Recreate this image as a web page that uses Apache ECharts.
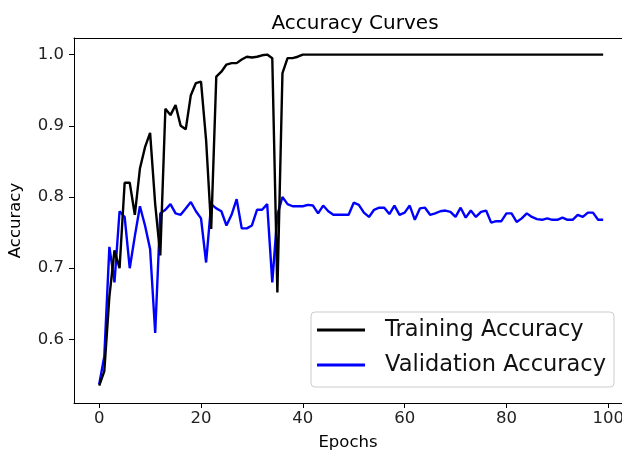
<!DOCTYPE html>
<html>
<head>
<meta charset="utf-8">
<script src="https://cdn.jsdelivr.net/npm/echarts@6/dist/echarts.min.js"></script>
<style>
  html, body { margin: 0; padding: 0; background: #fff; }
  #chart { width: 622px; height: 450px; }
</style>
</head>
<body>
<div id="chart"></div>
<script>
// values, one per epoch
const trainAcc = [
  0.535, 0.555, 0.66, 0.725, 0.70, 0.82, 0.82, 0.775, 0.84, 0.87,
  0.89, 0.79, 0.718, 0.924, 0.915, 0.929, 0.90, 0.895, 0.943, 0.96,
  0.962, 0.88, 0.755, 0.969, 0.976, 0.986, 0.988, 0.988, 0.993, 0.997,
  0.996, 0.997, 0.999, 1.0, 0.995, 0.666, 0.974, 0.995, 0.995, 0.997,
  1.0, 1.0, 1.0, 1.0, 1.0, 1.0, 1.0, 1.0, 1.0, 1.0,
  1.0, 1.0, 1.0, 1.0, 1.0, 1.0, 1.0, 1.0, 1.0, 1.0,
  1.0, 1.0, 1.0, 1.0, 1.0, 1.0, 1.0, 1.0, 1.0, 1.0,
  1.0, 1.0, 1.0, 1.0, 1.0, 1.0, 1.0, 1.0, 1.0, 1.0,
  1.0, 1.0, 1.0, 1.0, 1.0, 1.0, 1.0, 1.0, 1.0, 1.0,
  1.0, 1.0, 1.0, 1.0, 1.0, 1.0, 1.0, 1.0, 1.0, 1.0
];
const valAcc = [
  0.537, 0.576, 0.73, 0.68, 0.78, 0.772, 0.70, 0.745, 0.787, 0.76,
  0.727, 0.609, 0.777, 0.782, 0.79, 0.777, 0.775, 0.784, 0.793, 0.78,
  0.77, 0.708, 0.79, 0.784, 0.78, 0.76, 0.775, 0.797, 0.756, 0.756,
  0.76, 0.782, 0.782, 0.79, 0.68, 0.775, 0.80, 0.79, 0.787, 0.787,
  0.787, 0.789, 0.788, 0.777, 0.788, 0.78, 0.775, 0.775, 0.775, 0.775,
  0.792, 0.789, 0.778, 0.772, 0.782, 0.785, 0.785, 0.776, 0.788, 0.775,
  0.778, 0.788, 0.768, 0.784, 0.785, 0.775, 0.777, 0.78, 0.781, 0.779,
  0.772, 0.785, 0.771, 0.781, 0.772, 0.779, 0.781, 0.764, 0.766, 0.766,
  0.777, 0.777, 0.765, 0.77, 0.777, 0.772, 0.769, 0.768, 0.77, 0.768,
  0.768, 0.771, 0.768, 0.768, 0.775, 0.772, 0.778, 0.778, 0.768, 0.768
];
const xTicks = [0, 20, 40, 60, 80, 100];
const yTicks = [0.6, 0.7, 0.8, 0.9, 1.0];

const font = "DejaVu Sans";
const xMin = -4.95;
const xMax = 102.7; // the reference is cropped just before its right spine
const pairs = (arr) => arr.map((v, i) => [i, v]);

const chart = echarts.init(document.getElementById("chart"), null, { renderer: "canvas" });
chart.setOption({
  animation: false,
  backgroundColor: "#fff",
  title: {
    text: "Accuracy Curves",
    left: 350,
    top: 9,
    textAlign: "center",
    textStyle: { fontFamily: font, fontSize: 20, fontWeight: "normal", color: "#000" }
  },
  grid: { left: 74, top: 38, right: 0, bottom: 47, outerBoundsMode: "none" },
  legend: {
    orient: "vertical",
    right: 8,
    top: 312,
    padding: [6, 8, 10, 6],
    itemGap: 11,
    itemWidth: 48,
    itemHeight: 3,
    borderColor: "#ccc",
    borderWidth: 1,
    borderRadius: 4,
    textStyle: { fontFamily: font, fontSize: 22.5, lineHeight: 24, color: "#111", padding: [0, 0, 0, 15] },
    data: [
      { name: "Training Accuracy", icon: "rect" },
      { name: "Validation Accuracy", icon: "rect" }
    ]
  },
  xAxis: [
    {
      type: "value",
      min: xMin,
      max: xMax,
      name: "Epochs",
      nameLocation: "middle",
      nameGap: 31,
      nameTextStyle: { fontFamily: font, fontSize: 16.5, color: "#000" },
      axisLine: { onZero: false, lineStyle: { color: "#000", width: 1 } },
      axisTick: { customValues: xTicks, length: 5, lineStyle: { color: "#000" } },
      axisLabel: { customValues: xTicks, fontFamily: font, fontSize: 16.5, color: "#222", margin: 7 },
      splitLine: { show: false }
    },
    {
      // top spine only
      type: "value",
      position: "top",
      min: xMin,
      max: xMax,
      axisLine: { onZero: false, lineStyle: { color: "#000", width: 1 } },
      axisTick: { show: false },
      axisLabel: { show: false },
      splitLine: { show: false }
    }
  ],
  yAxis: {
    type: "value",
    min: 0.5107,
    max: 1.0233,
    name: "Accuracy",
    nameLocation: "middle",
    nameGap: 50,
    nameTextStyle: { fontFamily: font, fontSize: 16.5, color: "#000" },
    axisLine: { show: true, onZero: false, lineStyle: { color: "#000", width: 1 } },
    axisTick: { show: true, customValues: yTicks, length: 5, lineStyle: { color: "#000" } },
    axisLabel: {
      customValues: yTicks, fontFamily: font, fontSize: 16.5, color: "#222", margin: 10,
      formatter: (v) => v.toFixed(1)
    },
    splitLine: { show: false }
  },
  series: [
    {
      name: "Training Accuracy",
      type: "line",
      data: pairs(trainAcc),
      symbol: "none",
      lineStyle: { color: "#000", width: 2.4 },
      itemStyle: { color: "#000" },
      z: 3
    },
    {
      name: "Validation Accuracy",
      type: "line",
      data: pairs(valAcc),
      symbol: "none",
      lineStyle: { color: "#0000ff", width: 2.4 },
      itemStyle: { color: "#0000ff" },
      z: 2
    }
  ]
});
</script>
</body>
</html>
